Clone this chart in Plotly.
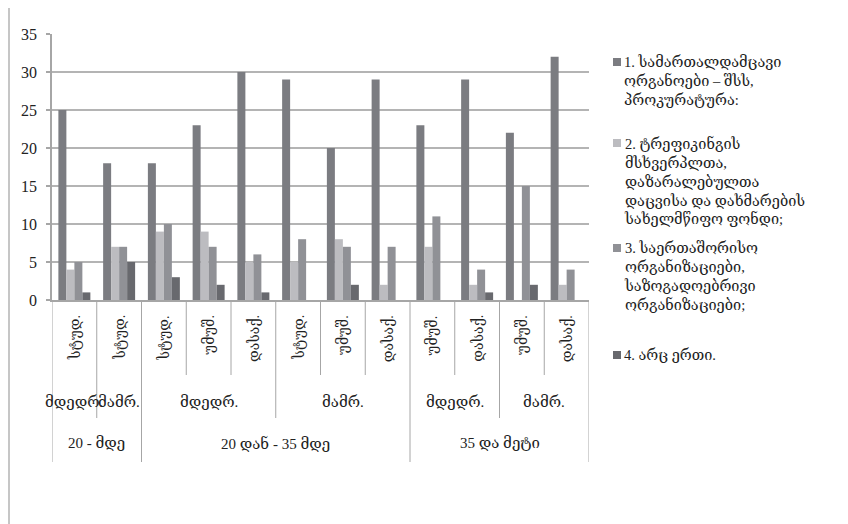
import plotly.graph_objects as go

# ---- data ----
status = ["სტუდ.", "სტუდ.", "სტუდ.", "უმუშ.", "დასაქ.", "სტუდ.", "უმუშ.", "დასაქ.", "უმუშ.", "დასაქ.", "უმუშ.", "დასაქ."]
gender = ["მდედრ.", "მამრ.", "მდედრ.", "მდედრ.", "მდედრ.", "მამრ.", "მამრ.", "მამრ.", "მდედრ.", "მდედრ.", "მამრ.", "მამრ."]
age = ["20 - მდე"] * 2 + ["20 დან - 35 მდე"] * 6 + ["35 და მეტი"] * 4

series_names = [
    "1. სამართალდამცავი<br>ორგანოები – შსს,<br>პროკურატურა:",
    "2. ტრეფიკინგის<br>მსხვერპლთა,<br>დაზარალებულთა<br>დაცვისა და დახმარების<br>სახელმწიფო ფონდი;",
    "3. საერთაშორისო<br>ორგანიზაციები,<br>საზოგადოებრივი<br>ორგანიზაციები;",
    "4. არც ერთი.",
]
s1 = [25, 18, 18, 23, 30, 29, 20, 29, 23, 29, 22, 32]
s2 = [4, 7, 9, 9, 5, 5, 8, 2, 7, 2, 0, 2]
s3 = [5, 7, 10, 7, 6, 8, 7, 7, 11, 4, 15, 4]
s4 = [1, 5, 3, 2, 1, 0, 2, 0, 0, 1, 2, 0]
series = [s1, s2, s3, s4]
y_ticks = [0, 5, 10, 15, 20, 25, 30, 35]

# ---- style ----
colors = ["#7b7c81", "#bcbcc0", "#909196", "#68696e"]
FONT = "Liberation Serif, DejaVu Serif, serif"
W, H = 848, 524
OFF = 8  # page body margin
L, R, T, B = 52 - OFF, 589 - OFF, 34 - OFF, 300 - OFF
LINE = "#a6a6a6"


def px_x(p):
    return (p - OFF - L) / (R - L)


def px_y(p):
    return (B - (p - OFF)) / (B - T)


idx = list(range(len(s1)))
fig = go.Figure()
for name, vals, c in zip(series_names, series, colors):
    fig.add_trace(go.Bar(x=idx, y=vals, name=name, marker=dict(color=c, line=dict(width=0)),
                         showlegend=False))

shapes = []
annotations = []

# outer chart border
shapes.append(dict(type="rect", xref="paper", yref="paper", x0=px_x(9), x1=px_x(900),
                   y0=px_y(5), y1=px_y(600), line=dict(color="#b4b4b4", width=1.5)))

# category table separators
n = len(idx)
for b in range(n + 1):
    if b == 0 or b == n or age[b] != age[b - 1]:
        bottom = 462
    elif gender[b] != gender[b - 1]:
        bottom = 418
    else:
        bottom = 375
    shapes.append(dict(type="line", xref="x", yref="paper", x0=b - 0.5, x1=b - 0.5,
                       y0=0, y1=px_y(bottom), line=dict(color=LINE, width=1)))

# level 1 labels (rotated)
for i, s in enumerate(status):
    annotations.append(dict(x=i, y=px_y(313), xref="x", yref="paper", text=s, textangle=-90,
                            showarrow=False, xanchor="center", yanchor="top",
                            font=dict(family=FONT, size=14, color="#222")))


def spans(keys):
    out = []
    start = 0
    for i in range(1, len(keys) + 1):
        if i == len(keys) or keys[i] != keys[start]:
            out.append((start, i - 1))
            start = i
    return out


# level 2 labels
g_keys = [a + "|" + g for a, g in zip(age, gender)]
for s, e in spans(g_keys):
    annotations.append(dict(x=(s + e) / 2, y=px_y(402), xref="x", yref="paper", text=gender[s],
                            showarrow=False, xanchor="center", yanchor="middle",
                            font=dict(family=FONT, size=15, color="#222")))
# level 3 labels
for s, e in spans(age):
    annotations.append(dict(x=(s + e) / 2, y=px_y(443), xref="x", yref="paper", text=age[s],
                            showarrow=False, xanchor="center", yanchor="middle",
                            font=dict(family=FONT, size=15, color="#222")))

# legend (keys + texts)
legend_y = [62, 143, 248, 355]
for name, c, ly in zip(series_names, colors, legend_y):
    shapes.append(dict(type="rect", xref="paper", yref="paper", x0=px_x(613), x1=px_x(621),
                       y0=px_y(ly - 4), y1=px_y(ly + 4), fillcolor=c, line=dict(width=0)))
    annotations.append(dict(x=px_x(622), y=px_y(ly - 10), xref="paper", yref="paper", text=name,
                            showarrow=False, xanchor="left", yanchor="top", align="left",
                            font=dict(family=FONT, size=14.5, color="#222")))

fig.update_layout(
    width=W, height=H,
    margin=dict(l=L, r=W - R, t=T, b=H - B, autoexpand=False),
    paper_bgcolor="white", plot_bgcolor="white",
    barmode="group", bargap=0.285, bargroupgap=0,
    xaxis=dict(range=[-0.5, n - 0.5], showticklabels=False, showgrid=False, zeroline=False,
               showline=True, linecolor=LINE, linewidth=1.5, ticks=""),
    yaxis=dict(range=[0, 35], tickvals=y_ticks, showgrid=True, gridcolor="#b4b4b4", gridwidth=1.5,
               zeroline=False, showline=True, linecolor=LINE, linewidth=1.5,
               ticks="outside", ticklen=4, tickcolor=LINE, tickwidth=1.5,
               ticklabelstandoff=6,
               tickfont=dict(family=FONT, size=16, color="#222")),
    shapes=shapes, annotations=annotations,
    showlegend=False,
)

fig.write_html("out.html")
